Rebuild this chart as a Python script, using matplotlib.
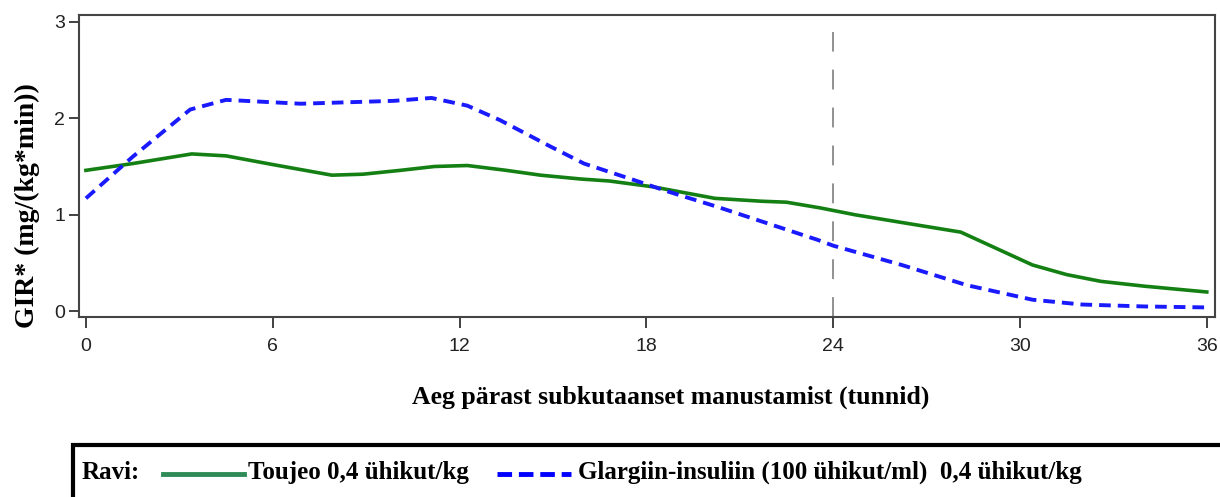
import matplotlib.pyplot as plt
import matplotlib.patches as mpatches
from matplotlib.lines import Line2D

# Toujeo 0,4 U/kg
hours_t = [0, 1.5, 3.4, 4.5, 6.0, 7.9, 8.9, 10.1, 11.2, 12.25, 13.5, 14.6, 15.9, 16.8,
           18.2, 20.2, 21.7, 22.5, 23.6, 24.7, 26.2, 28.1, 30.4, 31.5, 32.6, 34.0, 36]
gir_t = [1.46, 1.53, 1.63, 1.61, 1.52, 1.41, 1.42, 1.46, 1.50, 1.51, 1.46, 1.41, 1.37, 1.35,
         1.29, 1.17, 1.14, 1.13, 1.07, 1.00, 0.92, 0.82, 0.48, 0.38, 0.31, 0.26, 0.20]

# Glargine 100 U/ml 0,4 U/kg
hours_g = [0, 1.5, 3.35, 4.5, 6.9, 9.9, 11.1, 12.25, 13.3, 14.9, 16.0, 17.6, 18.7, 20.3,
           21.9, 23.5, 24.0, 26.2, 28.3, 30.4, 32.0, 34.0, 36]
gir_g = [1.17, 1.60, 2.09, 2.19, 2.15, 2.18, 2.21, 2.13, 1.98, 1.71, 1.53, 1.36, 1.24, 1.08,
         0.91, 0.74, 0.68, 0.48, 0.27, 0.12, 0.07, 0.05, 0.04]

xticks = [0, 6, 12, 18, 24, 30, 36]
yticks = [0, 1, 2, 3]

serif = 'Liberation Serif'
sans = 'Liberation Sans'

fig = plt.figure(figsize=(12.2, 4.97), dpi=100, facecolor='white')
ax = fig.add_axes([0.0648, 0.362, 0.931, 0.608])

ax.plot(hours_t, gir_t, color='#148014', lw=2.6)
ax.plot(hours_g, gir_g, color='#1a1aff', lw=2.8, ls=(0, (3, 1.8)))
ax.axvline(24, ymin=0.0, ymax=0.944, color='#888888', lw=1.3, ls=(0, (11, 10)))

ax.set_xlim(-0.22, 36.26)
ax.set_ylim(-0.06, 3.07)
ax.set_xticks(xticks)
ax.set_yticks(yticks)
ax.tick_params(axis='x', length=8, width=1.3, color='#333333', pad=7, labelsize=14)
ax.tick_params(axis='y', length=7, width=1.3, color='#333333', pad=3, labelsize=14)
for lab in ax.get_xticklabels() + ax.get_yticklabels():
    lab.set_family(sans)
    lab.set_color('#222222')
for s in ax.spines.values():
    s.set_color('#444444')
    s.set_linewidth(1.5)

fig.text(671 / 1220, 1 - 397 / 497, 'Aeg pärast subkutaanset manustamist (tunnid)',
         family=serif, weight='bold', fontsize=18.5, ha='center', va='center')
fig.text(27 / 1220, 1 - 206 / 497, 'GIR* (mg/(kg*min))',
         family=serif, weight='bold', fontsize=20, ha='center', va='center', rotation=90)

# legend box
fig.patches.append(mpatches.Rectangle((73 / 1220, -0.1), 1.1, 1 - 445 / 497 + 0.1,
                                      transform=fig.transFigure, fill=False,
                                      edgecolor='black', lw=3))
base = 1 - 479 / 497
sw = 1 - 474 / 497
fig.text(82 / 1220, base, 'Ravi:', family=serif, weight='bold', fontsize=18, va='baseline')
fig.lines.append(Line2D([163 / 1220, 244 / 1220], [sw, sw], transform=fig.transFigure,
                        color='#2e8b57', lw=3.5))
fig.text(248 / 1220, base, 'Toujeo 0,4 ühikut/kg', family=serif, weight='bold',
         fontsize=18, va='baseline')
fig.lines.append(Line2D([497 / 1220, 571 / 1220], [sw, sw], transform=fig.transFigure,
                        color='#0000ff', lw=3.5, ls=(0, (3, 1.4))))
fig.text(578 / 1220, base, 'Glargiin-insuliin (100 ühikut/ml)  0,4 ühikut/kg',
         family=serif, weight='bold', fontsize=18, va='baseline')

fig.savefig('out.png', dpi=100)
